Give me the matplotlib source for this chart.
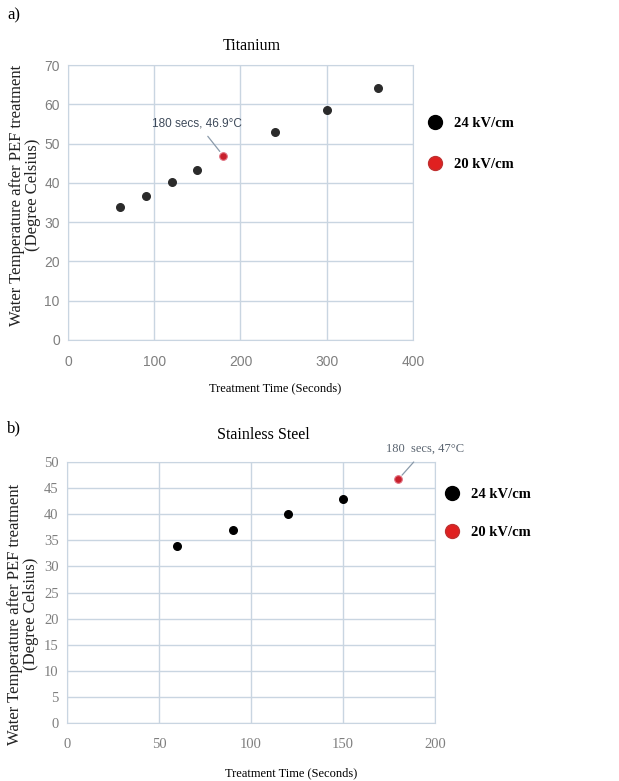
import matplotlib as mpl
from matplotlib import pyplot as plt
from matplotlib.lines import Line2D

mpl.rcParams['font.family'] = ['Liberation Serif', 'DejaVu Serif']

# Titanium
ti_time = [60, 90, 120, 150, 240, 300, 360]
ti_temp = [33.9, 36.7, 40.2, 43.3, 52.9, 58.5, 64.1]
ti_red_time = [180]
ti_red_temp = [46.9]
ti_note = '180 secs, 46.9°C'

# Stainless steel
ss_time = [60, 90, 120, 150]
ss_temp = [34.0, 36.9, 40.0, 43.0]
ss_red_time = [180]
ss_red_temp = [46.7]
ss_note = '180  secs, 47°C'

legend_labels = ['24 kV/cm', '20 kV/cm']
ylab = 'Water Temperature after PEF treatment\n(Degree Celsius)'
xlab = 'Treatment Time (Seconds)'

grid_col = '#c9d5e1'
tick_col = '#7f7f7f'
sans = ['Liberation Sans Narrow', 'Liberation Sans']


def style_axes(ax, tick_font, size, ylab_xy):
    ax.grid(True, color=grid_col, lw=1)
    ax.set_axisbelow(True)
    for s in ax.spines.values():
        s.set_color(grid_col)
    ax.tick_params(axis='y', length=0, colors=tick_col, labelsize=size, pad=6)
    ax.tick_params(axis='x', length=0, colors=tick_col, labelsize=size, pad=11)
    for lbl in ax.get_xticklabels() + ax.get_yticklabels():
        lbl.set_family(tick_font)
    ax.set_ylabel(ylab, fontsize=12, color='#222222', linespacing=1.0)
    ax.yaxis.set_label_coords(*ylab_xy)


def add_legend(ax, anchor, spacing):
    handles = [Line2D([0], [0], marker='o', lw=0, markersize=10, markerfacecolor='#000000', markeredgecolor='#000000'),
               Line2D([0], [0], marker='o', lw=0, markersize=10, markerfacecolor='#e02020', markeredgecolor='#c03030')]
    ax.legend(handles, legend_labels, loc='upper left', bbox_to_anchor=anchor, frameon=False,
              prop={'size': 10.5, 'weight': 'bold'}, handletextpad=0.8, labelspacing=spacing, handlelength=1.0)


fig = plt.figure(figsize=(6.19, 7.81), dpi=100)

# a) Titanium
ax1 = fig.add_axes([0.110, 0.5647, 0.557, 0.352])
ax1.scatter(ti_time, ti_temp, s=30, color='#2b2b2b', zorder=3)
ax1.scatter(ti_red_time, ti_red_temp, s=30, color='#c8202c', edgecolor='#e07080', lw=0.8, zorder=3)
ax1.set_xlim(0, 400)
ax1.set_ylim(0, 70)
ax1.set_xticks(range(0, 401, 100))
ax1.set_yticks(range(0, 71, 10))
style_axes(ax1, sans, 10, (-0.08, 0.527))
ax1.set_title('Titanium', fontsize=11.5, pad=11)
ax1.title.set_x(0.533)
ax1.set_xlabel(xlab, fontsize=9)
ax1.xaxis.set_label_coords(0.6, -0.155)
ax1.annotate(ti_note, xy=(ti_red_time[0], ti_red_temp[0]), xytext=(150, 55.2),
             ha='center', va='center', fontsize=8.5, color='#3e4a5a', family=sans,
             arrowprops=dict(arrowstyle='-', color='#8a9aaa', lw=0.9, shrinkA=4, shrinkB=4))
add_legend(ax1, (1.005, 0.86), 1.9)
fig.text(0.012, 0.98, 'a)', fontsize=12, va='center')

# b) Stainless Steel
ax2 = fig.add_axes([0.108, 0.0743, 0.595, 0.334])
ax2.scatter(ss_time, ss_temp, s=30, color='#000000', zorder=3)
ax2.scatter(ss_red_time, ss_red_temp, s=30, color='#c8202c', edgecolor='#e07080', lw=0.8, zorder=3)
ax2.set_xlim(0, 200)
ax2.set_ylim(0, 50)
ax2.set_xticks(range(0, 201, 50))
ax2.set_yticks(range(0, 51, 5))
style_axes(ax2, ['Liberation Serif'], 10.5, (-0.076, 0.418))
ax2.set_title('Stainless Steel', fontsize=11.5, pad=17)
ax2.title.set_x(0.533)
ax2.set_xlabel(xlab, fontsize=9)
ax2.xaxis.set_label_coords(0.609, -0.17)
ax2.annotate(ss_note, xy=(ss_red_time[0], ss_red_temp[0]), xytext=(194.6, 52.5),
             ha='center', va='center', fontsize=9, color='#5a6470',
             annotation_clip=False,
             arrowprops=dict(arrowstyle='-', color='#8a9aaa', lw=0.9, shrinkA=4, shrinkB=4))
add_legend(ax2, (0.99, 0.95), 1.7)
fig.text(0.012, 0.452, 'b)', fontsize=12, va='center')

fig.savefig('out.png', dpi=100)
